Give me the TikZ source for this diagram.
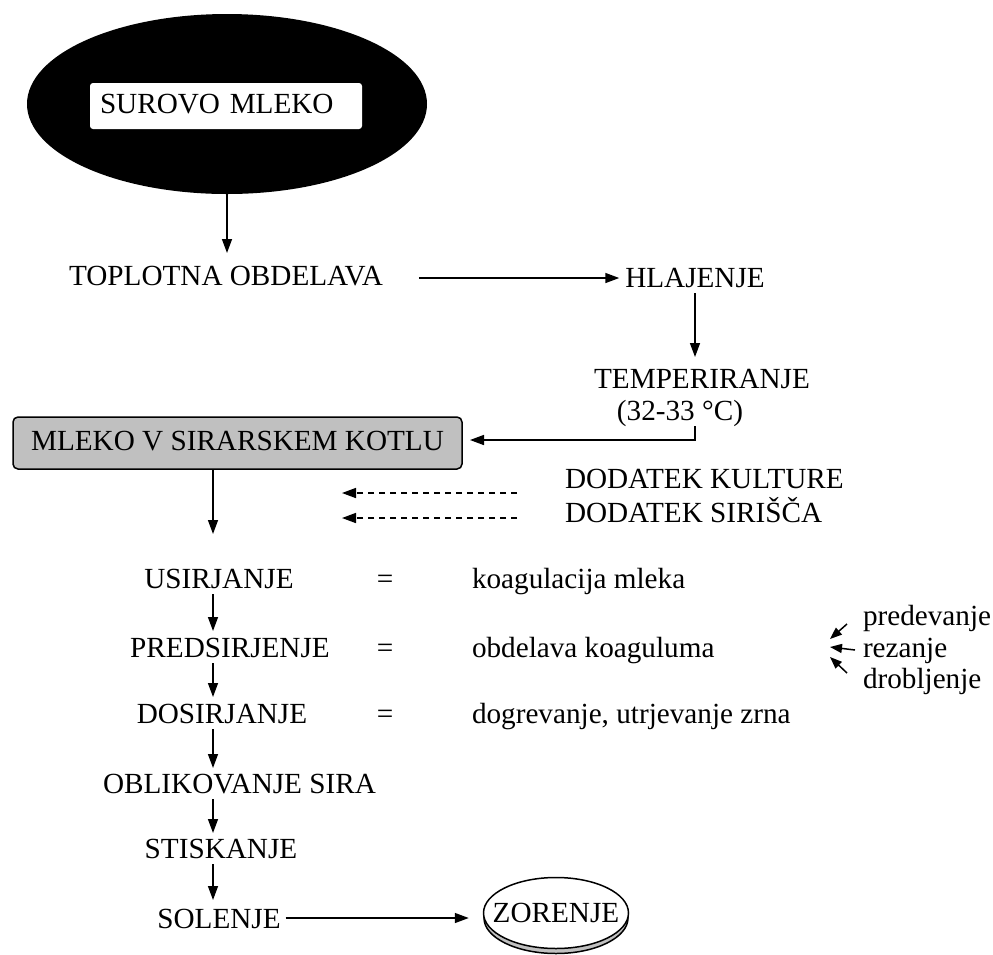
\documentclass[tikz,border=0pt]{standalone}
\usepackage{fontspec}
\setmainfont{Liberation Serif}
\usetikzlibrary{arrows.meta,shapes.geometric}
\definecolor{boxgray}{RGB}{192,192,192}
\begin{document}
\begin{tikzpicture}[x=0.5pt,y=-0.5pt,
  font=\fontsize{14.6}{17}\selectfont,
  txt/.style={inner sep=0pt, outer sep=0pt, text height=10pt, text depth=3pt},
  arr/.style={-{Triangle[length=7pt,width=5pt]}, line width=0.75pt},
  darr/.style={arr, dash pattern=on 3pt off 2.5pt},
  sarr/.style={-{Triangle[length=6pt,width=4.5pt]}, line width=0.75pt}]
\useasboundingbox (0,0) rectangle (993,955);

% top ellipse with white box
\node[ellipse, fill=black, minimum width=200pt, minimum height=90pt, inner sep=0pt, outer sep=0pt] (ell) at (227,104) {};
\node[txt, fill=white, rounded corners=1.5pt, minimum width=136pt, minimum height=23pt, text width=126pt, inner xsep=5pt, align=left] (sur) at (226,106) {SUROVO MLEKO};

\node[txt] (top) at (226,278) {TOPLOTNA OBDELAVA};
\node[txt] (hl) at (695,280) {HLAJENJE};
\node[txt] (temp) at (702,381) {TEMPERIRANJE};
\node[txt] (tempc) at (680,413) {(32-33 °C)};

\node[txt, draw, line width=0.75pt, fill=boxgray, rounded corners=2.5pt, minimum width=224.5pt, minimum height=26pt] (mleko) at (237.5,443) {MLEKO V SIRARSKEM KOTLU};

\node[txt, anchor=west] (kult) at (565,481) {DODATEK KULTURE};
\node[txt, anchor=west] (siri) at (565,515) {DODATEK SIRIŠČA};

\node[txt] (usir) at (219,581) {USIRJANJE};
\node[txt] (eq1) at (385,581) {=};
\node[txt, anchor=west] (koag) at (472,581) {koagulacija mleka};

\node[txt] (pred) at (230,650) {PREDSIRJENJE};
\node[txt] (eq2) at (385,650) {=};
\node[txt, anchor=west] (obd) at (472,650) {obdelava koaguluma};

\node[txt] (dos) at (222,716) {DOSIRJANJE};
\node[txt] (eq3) at (385,716) {=};
\node[txt, anchor=west] (dogr) at (472,716) {dogrevanje, utrjevanje zrna};

\node[txt] (obl) at (239.5,786) {OBLIKOVANJE SIRA};
\node[txt] (stis) at (221,851) {STISKANJE};
\node[txt] (sol) at (219,921) {SOLENJE};

\node[txt, anchor=west] (predv) at (863,618) {predevanje};
\node[txt, anchor=west] (rez) at (863,650) {rezanje};
\node[txt, anchor=west] (drob) at (863,681) {drobljenje};

% ZORENJE disc
\draw[line width=0.75pt, fill=boxgray] (556,918) ellipse [x radius=36pt, y radius=17.75pt];
\node[ellipse, draw, line width=0.75pt, fill=white, minimum width=72pt, minimum height=35.5pt, inner xsep=-6pt, inner ysep=0pt] (zor) at (556,913) {\raisebox{-2pt}{ZORENJE}};

% coordinates
\coordinate (ax) at (213,0);
\coordinate (d1) at (342,493);
\coordinate (d2) at (342,518);
\coordinate (t1) at (830,639);
\coordinate (t2) at (830,647);
\coordinate (t3) at (830,657);

% connectors
\draw[arr, shorten >=6pt] (ell.south) -- (ell.south |- top.north);
\draw[arr, shorten <=18pt, shorten >=3pt] (top.east) -- (top.east -| hl.west);
\draw[arr, shorten >=5.5pt] (hl.south) -- (hl.south |- temp.north);
\draw[arr] (tempc.south -| hl.south) |- ([xshift=4pt, yshift=1.5pt]mleko.east);
\draw[darr] ([shift={(-24pt,-6pt)}]kult.west) -- (d1);
\draw[darr] ([shift={(-24pt,-1.5pt)}]siri.west) -- (d2);
\draw[arr, shorten >=17pt] (mleko.south -| ax) -- (usir.north -| ax);
\draw[arr, shorten >=3pt] (usir.south -| ax) -- (pred.north -| ax);
\draw[arr, shorten >=3pt] (pred.south -| ax) -- (dos.north -| ax);
\draw[arr, shorten >=2.5pt] (dos.south -| ax) -- (obl.north -| ax);
\draw[arr, shorten >=2.5pt] (obl.south -| ax) -- (stis.north -| ax);
\draw[arr, shorten >=4pt] (stis.south -| ax) -- (sol.north -| ax);
\draw[arr, shorten <=2.5pt, shorten >=7pt] ([yshift=1.5pt]sol.east) -- ([yshift=1.5pt]sol.east -| zor.west);
\draw[sarr] ([shift={(-8pt,-3pt)}]predv.west) -- (t1);
\draw[sarr] ([xshift=-4pt]rez.west) -- (t2);
\draw[sarr] ([shift={(-8pt,4pt)}]drob.west) -- (t3);
\end{tikzpicture}
\end{document}
